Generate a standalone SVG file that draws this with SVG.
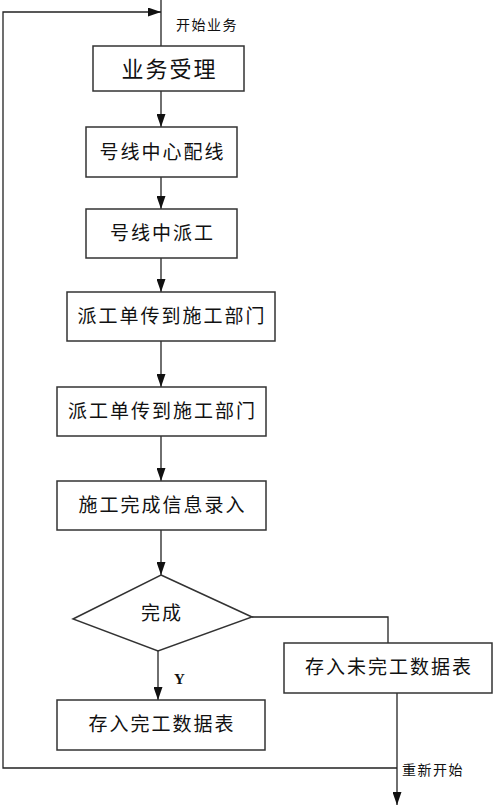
<svg xmlns="http://www.w3.org/2000/svg" width="493" height="807" viewBox="0 0 493 807">
<style>
.box{fill:#fff;stroke:#333;stroke-width:1.5}
.ln{fill:none;stroke:#222;stroke-width:1.3}
.t{font-family:"Noto Sans CJK SC","Liberation Serif",serif;font-size:19px;letter-spacing:2px;fill:#111;text-anchor:middle}
.s{font-family:"Noto Sans CJK SC","Liberation Serif",serif;font-size:14px;letter-spacing:1.5px;fill:#111}
</style>
<defs>
<marker id="ar" viewBox="0 0 10 10" refX="10" refY="5" markerWidth="13" markerHeight="9" markerUnits="userSpaceOnUse" orient="auto" preserveAspectRatio="none">
<path d="M0,0 L10,5 L0,10 Z" fill="#111"/>
</marker>
</defs>
<rect width="493" height="807" fill="#fff"/>
<g id="connectors">
<line class="ln" x1="161" y1="0" x2="161" y2="46"/>
<polyline class="ln" points="397,768 3,768 3,12 161,12" marker-end="url(#ar)"/>
<line class="ln" x1="161" y1="91" x2="161" y2="127" marker-end="url(#ar)"/>
<line class="ln" x1="161" y1="177" x2="161" y2="209" marker-end="url(#ar)"/>
<line class="ln" x1="161" y1="258" x2="161" y2="292" marker-end="url(#ar)"/>
<line class="ln" x1="161" y1="341" x2="161" y2="387" marker-end="url(#ar)"/>
<line class="ln" x1="161" y1="436" x2="161" y2="481" marker-end="url(#ar)"/>
<line class="ln" x1="161" y1="530" x2="161" y2="575" marker-end="url(#ar)"/>
<line class="ln" x1="158" y1="651" x2="158" y2="700" marker-end="url(#ar)"/>
<polyline class="ln" points="252,617 388,617 388,643"/>
<line class="ln" x1="397" y1="693" x2="397" y2="805" marker-end="url(#ar)"/>
<text class="s" x="176" y="30">开始业务</text>
<text x="174" y="684" style="font-family:'Liberation Serif',serif;font-size:15px;font-weight:bold;fill:#111">Y</text>
<text class="s" x="402" y="775">重新开始</text>
</g>
<g id="n1"><rect class="box" x="93" y="46" width="151" height="45"/><text class="t" x="169.5" y="77" style="font-size:22px">业务受理</text></g>
<g id="n2"><rect class="box" x="86" y="127" width="151" height="50"/><text class="t" x="162.5" y="159">号线中心配线</text></g>
<g id="n3"><rect class="box" x="86" y="209" width="151" height="49"/><text class="t" x="162.5" y="240">号线中派工</text></g>
<g id="n4"><rect class="box" x="67" y="292" width="208" height="49"/><text class="t" x="172" y="323">派工单传到施工部门</text></g>
<g id="n5"><rect class="box" x="57" y="387" width="209" height="49"/><text class="t" x="162.5" y="418">派工单传到施工部门</text></g>
<g id="n6"><rect class="box" x="57" y="481" width="209" height="49"/><text class="t" x="162.5" y="512">施工完成信息录入</text></g>
<g id="n7"><polygon class="box" points="161,575 252,617 158,651 73,619"/><text class="t" x="162" y="620">完成</text></g>
<g id="n8"><rect class="box" x="57" y="700" width="208" height="50"/><text class="t" x="162" y="731">存入完工数据表</text></g>
<g id="n9"><rect class="box" x="284" y="643" width="208" height="50"/><text class="t" x="389" y="674">存入未完工数据表</text></g>
</svg>
